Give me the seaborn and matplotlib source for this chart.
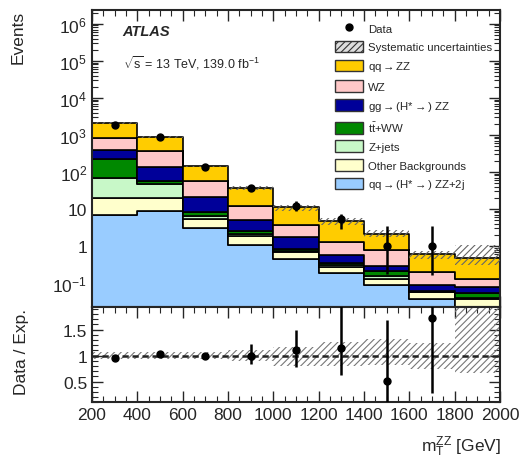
import numpy as np
import pandas as pd
import matplotlib
matplotlib.use("Agg")
import matplotlib.pyplot as plt
import seaborn as sns
from matplotlib.lines import Line2D
from matplotlib.patches import Patch
from matplotlib.ticker import FixedLocator, FixedFormatter, MultipleLocator, LogLocator, NullFormatter

# binning of m_T^ZZ [GeV]
bin_edges = [200, 400, 600, 800, 1000, 1200, 1400, 1600, 1800, 2000]
bin_centers = [300, 500, 700, 900, 1100, 1300, 1500, 1700, 1900]

# expected events per process (top of the stack first)
labels = [
    r"qq$\rightarrow$ZZ",
    "WZ",
    r"gg$\rightarrow$(H*$\rightarrow$) ZZ",
    r"t$\bar{\mathrm{t}}$+WW",
    "Z+jets",
    "Other Backgrounds",
    r"qq$\rightarrow$(H*$\rightarrow$) ZZ+2j",
]
colors = ["#ffcc00", "#ffc8c8", "#000099", "#008800", "#c8f8c8", "#ffffcc", "#99ccff"]

qq_zz = [1220, 508, 83, 24.9, 7.3, 3.34, 1.31, 0.40, 0.334]
wz = [430, 218, 36, 7.0, 1.98, 0.69, 0.50, 0.113, 0.046]
gg_zz = [180, 82, 12.7, 2.6, 0.90, 0.23, 0.08, 0.025, 0.025]
ttww = [153, 10, 1.9, 0.4, 0.10, 0.04, 0.06, 0.004, 0.015]
zjets = [47, 27, 1.0, 0.26, 0.05, 0.03, 0.024, 0.002, 0.003]
other_bkg = [13, 11, 2.4, 0.76, 0.23, 0.08, 0.039, 0.018, 0.017]
qq_zz_2j = [7.0, 9.0, 3.0, 1.08, 0.44, 0.19, 0.087, 0.038, 0.02]

# relative systematic band (up / down) per bin
syst_up = [1.06, 1.06, 1.06, 1.10, 1.17, 1.26, 1.31, 1.25, 2.3]
syst_dn = [0.94, 0.94, 0.94, 0.90, 0.80, 0.80, 0.81, 0.74, 0.67]

# observed data
data_x = [300, 500, 700, 900, 1100, 1300, 1500, 1700]
data_y = [1900, 890, 138, 37, 12.1, 5.2, 1.0, 1.0]
data_err_lo = [44, 30, 12, 6, 3.5, 2.4, 0.83, 0.84]
data_err_hi = [44, 30, 12, 6, 4.4, 2.2, 2.4, 2.4]

# data / expectation
ratio_y = [0.96, 1.03, 1.0, 1.0, 1.10, 1.14, 0.51, 1.72]
ratio_err_lo = [0.02, 0.03, 0.04, 0.16, 0.32, 0.51, 0.51, 1.44]
ratio_err_hi = [0.02, 0.03, 0.04, 0.22, 0.40, 0.90, 1.18, 1.30]

sns.set_style("ticks")
plt.rcParams["font.family"] = ["Liberation Sans", "DejaVu Sans"]
plt.rcParams["mathtext.fontset"] = "custom"
plt.rcParams["mathtext.rm"] = "Liberation Sans"
plt.rcParams["mathtext.it"] = "Liberation Sans:italic"
plt.rcParams["mathtext.default"] = "regular"
plt.rcParams["hatch.linewidth"] = 0.8

process_values = [qq_zz, wz, gg_zz, ttww, zjets, other_bkg, qq_zz_2j]
df = pd.DataFrame({
    "mT": np.tile(bin_centers, len(labels)),
    "process": np.repeat(labels, len(bin_centers)),
    "events": np.concatenate(process_values),
})

total = np.sum(process_values, axis=0)
band_lo = np.append(total * np.array(syst_dn), total[-1] * syst_dn[-1])
band_hi = np.append(total * np.array(syst_up), total[-1] * syst_up[-1])
rband_lo = np.append(syst_dn, syst_dn[-1])
rband_hi = np.append(syst_up, syst_up[-1])

fig = plt.figure(figsize=(5.3, 4.6), dpi=100)
ax = fig.add_axes([0.1736, 0.3298, 0.7698, 0.6469])
rax = fig.add_axes([0.1736, 0.1233, 0.7698, 0.2065])

sns.histplot(
    data=df, x="mT", weights="events", hue="process", hue_order=labels,
    palette=colors, bins=bin_edges, multiple="stack", element="step",
    fill=True, alpha=1, edgecolor="black", linewidth=1.2, legend=False, ax=ax,
)
ax.set_yscale("log")
ax.fill_between(bin_edges, band_lo, band_hi, step="post", facecolor="none",
                edgecolor="#666666", hatch="/////", linewidth=0, zorder=3)
ax.errorbar(data_x, data_y, yerr=[data_err_lo, data_err_hi], fmt="o", color="black",
            markersize=5, elinewidth=1.8, capsize=0, zorder=4)

ax.set_xlim(200, 2000)
ax.set_ylim(0.022, 2.4e6)
ax.yaxis.set_major_locator(FixedLocator([0.1, 1, 10, 1e2, 1e3, 1e4, 1e5, 1e6]))
ax.yaxis.set_major_formatter(FixedFormatter(
    ["$10^{-1}$", "1", "10", "$10^{2}$", "$10^{3}$", "$10^{4}$", "$10^{5}$", "$10^{6}$"]))
ax.yaxis.set_minor_locator(LogLocator(base=10, subs=np.arange(2, 10), numticks=20))
ax.yaxis.set_minor_formatter(NullFormatter())
ax.xaxis.set_major_locator(MultipleLocator(200))
ax.xaxis.set_minor_locator(MultipleLocator(50))
ax.tick_params(labelbottom=False)
ax.set_xlabel("")
ax.set_ylabel("")

# ratio panel
rax.fill_between(bin_edges, rband_lo, rband_hi, step="post", facecolor="none",
                 edgecolor="#777777", hatch="/////", linewidth=0)
rax.axhline(1, color="#222222", linestyle=(0, (2.5, 1.5)), linewidth=1.8)
rax.errorbar(data_x, ratio_y, yerr=[ratio_err_lo, ratio_err_hi], fmt="o", color="black",
             markersize=5, elinewidth=1.8, capsize=0, zorder=4)
rax.set_xlim(200, 2000)
rax.set_ylim(0.1, 1.93)
rax.yaxis.set_major_locator(FixedLocator([0.5, 1, 1.5]))
rax.yaxis.set_major_formatter(FixedFormatter(["0.5", "1", "1.5"]))
rax.yaxis.set_minor_locator(MultipleLocator(0.1))
rax.xaxis.set_major_locator(MultipleLocator(200))
rax.xaxis.set_minor_locator(MultipleLocator(50))

for a in (ax, rax):
    a.tick_params(which="both", direction="in", top=True, right=True, labelsize=12.5)
    a.tick_params(which="major", length=8, width=1.0)
    a.tick_params(which="minor", length=4, width=0.8)
    for s in a.spines.values():
        s.set_linewidth(1.5)

fig.text(0.035, 0.977, "Events", rotation=90, ha="center", va="top", fontsize=12.5)
fig.text(0.04, 0.235, "Data / Exp.", rotation=90, ha="center", va="center", fontsize=12.5)
fig.text(0.945, 0.028, r"m$_{\mathrm{T}}^{ZZ}$ [GeV]", ha="right", va="center", fontsize=12.5)

ax.text(0.075, 0.93, "ATLAS", transform=ax.transAxes, fontsize=10.5,
        fontweight="bold", fontstyle="italic", va="center")
ax.text(0.075, 0.825, r"$\sqrt{s}$ = 13 TeV, 139.0 fb$^{-1}$", transform=ax.transAxes,
        fontsize=9, va="center")

handles = [Line2D([], [], marker="o", color="black", linestyle="none", markersize=5),
           Patch(facecolor="#dddddd", edgecolor="#333333", hatch="/////", linewidth=1.0)]
handles += [Patch(facecolor=c, edgecolor="#333333", linewidth=1.0) for c in colors]
ax.legend(handles, ["Data", "Systematic uncertainties"] + labels, loc="upper left",
          bbox_to_anchor=(0.596, 0.958), frameon=False, fontsize=8.2, borderpad=0,
          handlelength=2.4, handleheight=1.2, labelspacing=0.6, handletextpad=0.5,
          borderaxespad=0)

fig.savefig("out.png", dpi=100)
